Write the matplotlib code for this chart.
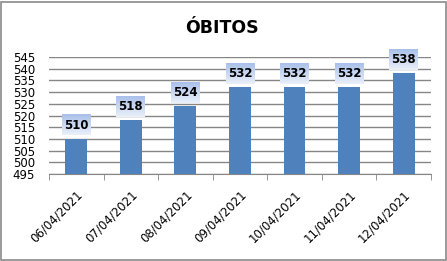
import numpy as np
import matplotlib.pyplot as plt
from matplotlib.patches import Rectangle
from matplotlib.colors import LinearSegmentedColormap

# data
dates = ["06/04/2021", "07/04/2021", "08/04/2021", "09/04/2021",
         "10/04/2021", "11/04/2021", "12/04/2021"]
obitos = [510, 518, 524, 532, 532, 532, 538]
yticks = list(range(495, 546, 5))

fig = plt.figure(figsize=(4.47, 2.61), dpi=100)
fig.patches.append(Rectangle((0.002, 0.004), 0.995, 0.99, transform=fig.transFigure,
                             fill=False, edgecolor="#8a8a8a", lw=1.2))
ax = fig.add_axes([0.1096, 0.3333, 0.8545, 0.4483])

x = np.arange(len(dates))
ax.bar(x, obitos, width=0.4, color="#4f81bd", zorder=3)

ax.set_yticks(yticks)
ax.yaxis.grid(True, color="#868686", lw=1)
ax.set_axisbelow(True)
for s in ["top", "right", "left"]:
    ax.spines[s].set_visible(False)
ax.spines["bottom"].set_color("#868686")
ax.tick_params(axis="y", length=0, pad=10, labelsize=8.5, labelcolor="black")
ax.set_xticks(x)
ax.set_xticklabels(dates, rotation=45, ha="right", rotation_mode="anchor",
                   fontsize=8.5)
ax.tick_params(axis="x", length=0, pad=10)
ax.set_xticks(np.arange(-0.5, len(dates), 1), minor=True)
ax.tick_params(axis="x", which="minor", length=4, color="#868686")

# gradient label boxes
cmap = LinearSegmentedColormap.from_list("lbl", ["#eaf0fa", "#a9c0ea"])
grad = np.linspace(0, 1, 50).reshape(-1, 1)
for xi, v in zip(x, obitos):
    ax.imshow(grad, cmap=cmap, origin="lower", aspect="auto",
              extent=(xi - 0.265, xi + 0.265, v + 1.5, v + 10.3),
              zorder=4, clip_on=False)
    ax.text(xi, v + 5.9, str(v), ha="center", va="center", fontsize=8.5,
            fontweight="bold", zorder=5, clip_on=False)
ax.set_xlim(-0.5, len(dates) - 0.5)
ax.set_ylim(495, 545)

fig.text(0.497, 0.874, "ÓBITOS", ha="center", va="baseline", fontsize=12.5,
         fontweight="bold")

fig.savefig("out.png", dpi=100)
